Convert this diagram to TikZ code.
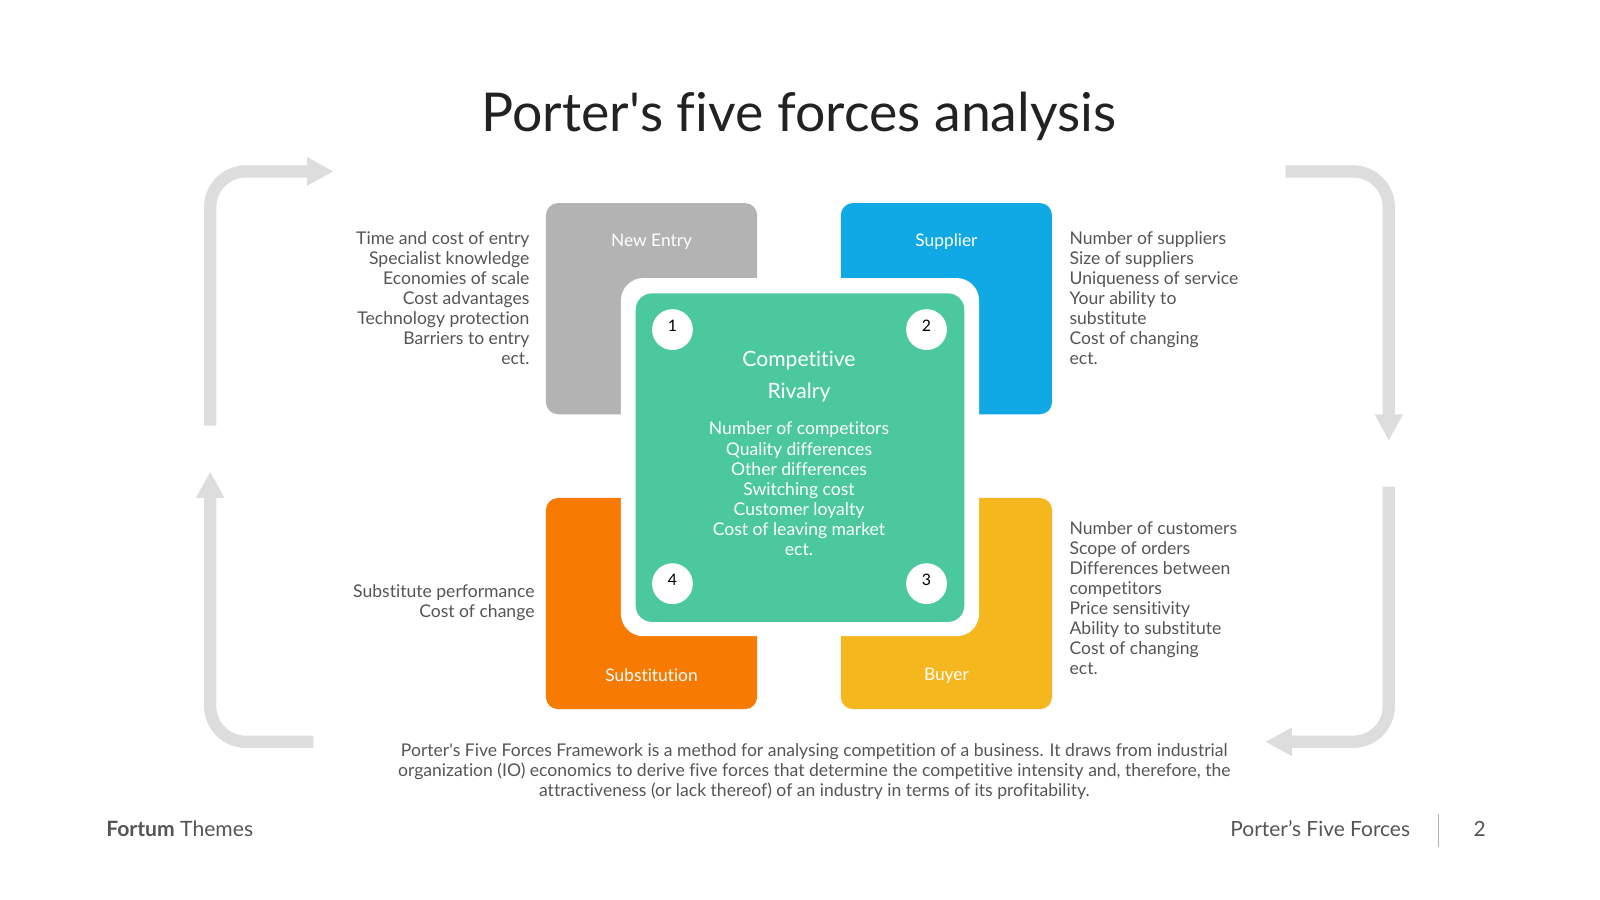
\documentclass[tikz,border=0pt]{standalone}
\usepackage{fontspec}
\setmainfont{Lato}[Ligatures={TeX,NoCommon}]
\usetikzlibrary{arrows.meta}
\definecolor{cgray}{HTML}{B3B3B3}
\definecolor{cblue}{HTML}{10A9E5}
\definecolor{corange}{HTML}{F77A03}
\definecolor{cyellow}{HTML}{F5B71E}
\definecolor{cgreen}{HTML}{4BC89D}
\definecolor{carrow}{HTML}{DDDDDD}
\definecolor{ctext}{HTML}{555555}
\definecolor{ctitle}{HTML}{222222}
\tikzset{
  forcebox/.style={rounded corners=12pt, minimum width=207pt, minimum height=207pt, inner sep=0pt},
  boxlabel/.style={text=white, font=\fontsize{17}{20}\selectfont, inner sep=0pt},
  sidetext/.style={text=ctext, font=\fontsize{17.2}{19.55}\selectfont, inner sep=0pt},
  numcircle/.style={circle, fill=white, minimum size=40pt, inner sep=0pt},
  numtext/.style={text=black, font=\fontsize{15.5}{18}\selectfont, inner sep=0pt},
  cyclearrow/.style={draw=carrow, line width=12pt, rounded corners=35pt, -{Triangle[length=26pt,width=26pt]}},
}
\begin{document}
\begin{tikzpicture}[x=1pt,y=-1pt]
\useasboundingbox (0,0) rectangle (1568,882);
\fill[white] (0,0) rectangle (1568,882);

% title
\node[text=ctitle, font=\fontsize{52.5}{60}\selectfont, inner sep=0pt, anchor=base] (title) at (783,129) {Porter\textquotesingle s five forces analysis};

% cycle arrows
\coordinate (a1s) at (206,417); \coordinate (a1e) at (327,168);
\coordinate (a2s) at (1260,168); \coordinate (a2e) at (1361,432);
\coordinate (a3s) at (1361,477); \coordinate (a3e) at (1240,727);
\coordinate (a4s) at (307,727); \coordinate (a4e) at (206,462);
\draw[cyclearrow] (a1s) |- (a1e);
\draw[cyclearrow] (a2s) -| (a2e);
\draw[cyclearrow] (a3s) |- (a3e);
\draw[cyclearrow] (a4s) -| (a4e);

% four force boxes
\node[forcebox, fill=cgray] (newentry) at (638.5,302.5) {};
\node[forcebox, fill=cblue] (supplier) at (927.5,302.5) {};
\node[forcebox, fill=corange] (substitution) at (638.5,591.5) {};
\node[forcebox, fill=cyellow] (buyer) at (927.5,591.5) {};

\node[boxlabel] (lnew) at (638.5,237) {New Entry};
\node[boxlabel] (lsup) at (927.5,237) {Supplier};
\node[boxlabel] (lsub) at (638.5,662) {Substitution};
\node[boxlabel] (lbuy) at (927.5,662) {Buyer};

% center
\node[fill=white, rounded corners=22pt, minimum width=351pt, minimum height=351pt, inner sep=0pt] (whiteframe) at (784,448) {};
\node[fill=cgreen, rounded corners=16pt, minimum width=322pt, minimum height=322pt, inner sep=0pt] (rivalry) at (784,448.5) {};

\node[text=white, font=\fontsize{20.7}{31}\selectfont, align=center, inner sep=0pt] (rtitle) at (783,369) {Competitive\\Rivalry};
\node[text=white, font=\fontsize{17.2}{19.67}\selectfont, align=center, inner sep=0pt] (rlist) at (783,479) {Number of competitors\\Quality differences\\Other differences\\Switching cost\\Customer loyalty\\Cost of leaving market\\ect.};

\node[numcircle] (c1) at (659,323) {};
\node[numcircle] (c2) at (908,323) {};
\node[numcircle] (c3) at (908,572) {};
\node[numcircle] (c4) at (659,572) {};
\node[numtext] (n1) at (659,319) {1};
\node[numtext] (n2) at (908,319) {2};
\node[numtext] (n3) at (908,568) {3};
\node[numtext] (n4) at (659,568) {4};

% side texts
\node[sidetext, align=right, anchor=east] (tnew) at (519,292) {Time and cost of entry\\Specialist knowledge\\Economies of scale\\Cost advantages\\Technology protection\\Barriers to entry\\ect.};
\node[sidetext, align=left, anchor=west] (tsup) at (1048,292) {Number of suppliers\\Size of suppliers\\Uniqueness of service\\Your ability to\\substitute\\Cost of changing\\ect.};
\node[sidetext, align=right, anchor=east] (tsub) at (524,591) {Substitute performance\\Cost of change};
\node[sidetext, align=left, anchor=west] (tbuy) at (1048,586) {Number of customers\\Scope of orders\\Differences between\\competitors\\Price sensitivity\\Ability to substitute\\Cost of changing\\ect.};

% description
\node[sidetext, align=center] (desc) at (798,756) {Porter\textquotesingle s Five Forces Framework is a method for analysing competition of a business. It draws from industrial\\organization (IO) economics to derive five forces that determine the competitive intensity and, therefore, the\\attractiveness (or lack thereof) of an industry in terms of its profitability.};

% footer
\node[text=ctext, font=\fontsize{20.7}{24}\selectfont, anchor=base west, inner sep=0pt] (brand) at (104,820) {\textbf{Fortum} Themes};
\node[text=ctext, font=\fontsize{20.5}{24}\selectfont, anchor=base east, inner sep=0pt] (section) at (1382,820) {Porter’s Five Forces};
\coordinate (sepTop) at (1410,798); \coordinate (sepBot) at (1410,830);
\draw[draw=cgray, line width=1pt] (sepTop) -- (sepBot);
\node[text=ctext, font=\fontsize{20.5}{24}\selectfont, anchor=base, inner sep=0pt] (page) at (1450,820) {2};
\end{tikzpicture}
\end{document}
